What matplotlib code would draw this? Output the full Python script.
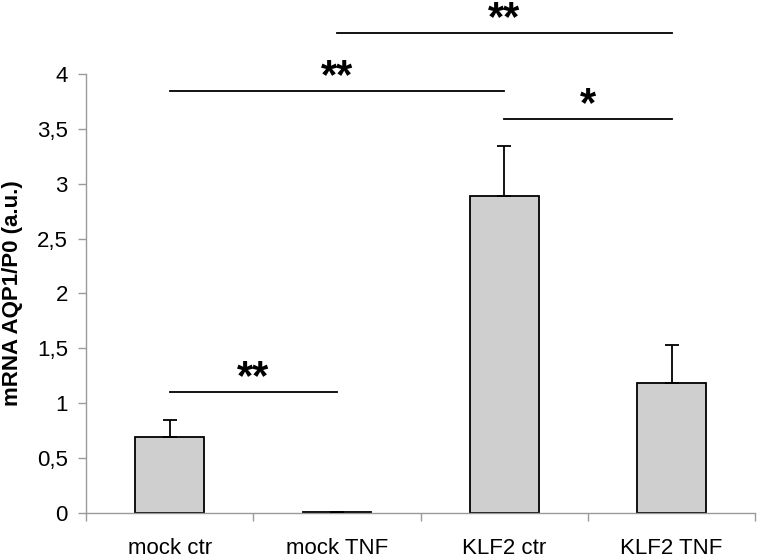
import numpy as np
import matplotlib.pyplot as plt
from matplotlib.ticker import FuncFormatter

plt.rcParams['font.family'] = ['Liberation Sans', 'DejaVu Sans']

groups = ['mock ctr', 'mock TNF', 'KLF2 ctr', 'KLF2 TNF']
values = [0.69, 0.01, 2.89, 1.18]
errors = [0.16, 0.0, 0.45, 0.35]

# significance brackets: (from group, to group, height, label)
sig_pairs = [(0, 1, 1.10, '**'), (0, 2, 3.84, '**'), (1, 3, 4.37, '**'), (2, 3, 3.59, '*')]

fig = plt.figure(figsize=(7.58, 5.6), dpi=100)
ax = fig.add_axes([0.1135, 0.084, 0.883, 0.784])

x = np.arange(len(groups))
ax.bar(x, values, width=0.41, color='#cfcfcf', edgecolor='black', linewidth=1.3, zorder=2)
ax.errorbar(x, values, yerr=[np.zeros(len(errors)), errors], fmt='none',
            ecolor='black', elinewidth=1.3, capsize=5, capthick=1.3, zorder=3)

for a, b, h, lab in sig_pairs:
    ax.plot([a, b], [h, h], color='black', lw=1.3, clip_on=False)
    ax.text((a + b) / 2, h + 0.03, lab, ha='center', va='baseline',
            fontsize=30, fontweight='bold', clip_on=False)

ax.set_xlim(-0.5, 3.5)
ax.set_ylim(0, 4)
ax.set_yticks(np.arange(0, 4.01, 0.5))
ax.yaxis.set_major_formatter(FuncFormatter(lambda v, p: ('%g' % v).replace('.', ',')))
ax.set_xticks(x)
ax.set_xticklabels(groups)
ax.set_xticks(np.arange(-0.5, 3.6, 1), minor=True)
ax.tick_params(axis='x', which='major', length=0, pad=18, labelsize=16)
ax.tick_params(axis='x', which='minor', length=6, color='#9a9a9a', width=1)
ax.tick_params(axis='y', length=6, color='#9a9a9a', width=1, pad=7, labelsize=16)

for s in ['top', 'right']:
    ax.spines[s].set_visible(False)
for s in ['left', 'bottom']:
    ax.spines[s].set_color('#9a9a9a')
    ax.spines[s].set_linewidth(1)

ax.set_ylabel('mRNA AQP1/P0 (a.u.)', fontsize=16, fontweight='bold', labelpad=10)

fig.savefig('out.png', dpi=100)
